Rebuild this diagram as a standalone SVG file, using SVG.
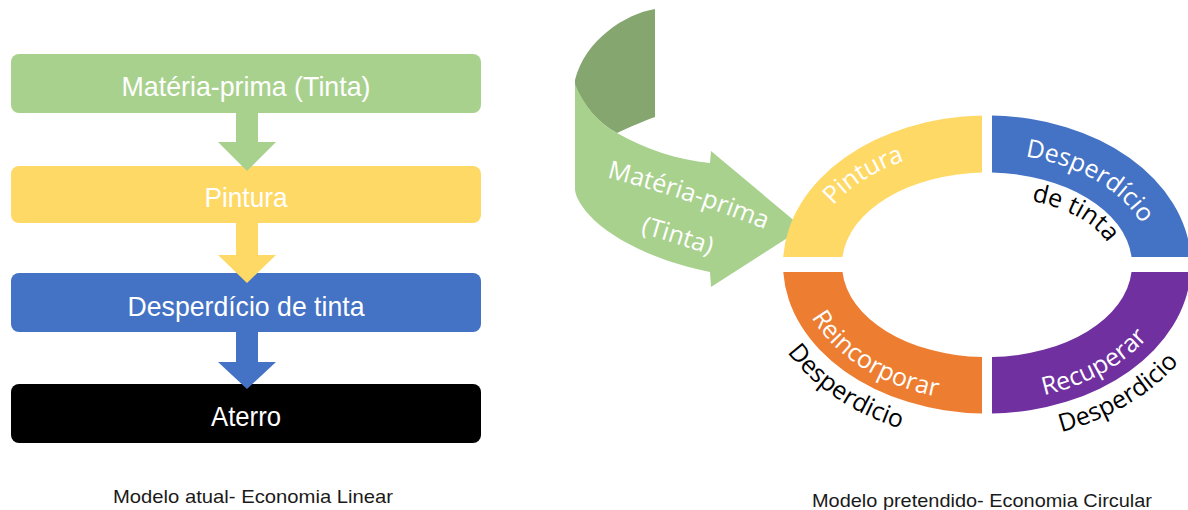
<svg xmlns="http://www.w3.org/2000/svg" width="1188" height="510" viewBox="0 0 1188 510">
<style>
.box-t{font-family:"Liberation Sans",Arial,sans-serif;font-size:28px;fill:#fff;text-anchor:middle}
.cap{font-family:"Liberation Sans",Arial,sans-serif;font-size:19px;fill:#1a1a1a}
.ring-w{font-family:"Open Sans","Liberation Sans",sans-serif;font-size:25px;fill:#fff;text-anchor:middle}
.ring-k{font-family:"Open Sans","Liberation Sans",sans-serif;font-size:25px;fill:#000;text-anchor:middle}
.arr-t{font-family:"Open Sans","Liberation Sans",sans-serif;font-size:25px;fill:#fff;text-anchor:middle}
</style>
<defs>
<path id="tpY" d="M809,264.5 A178,117 0 0,1 987,147.5"/>
<path id="tpB1" d="M987,153.5 A166,111 0 0,1 1153,264.5"/>
<path id="tpB2" d="M987,196.5 A127,68 0 0,1 1114,264.5"/>
<path id="tpO1" d="M797,264.5 A190,137 0 0,0 987,401.5"/>
<path id="tpO2" d="M757,264.5 A230,177 0 0,0 987,441.5"/>
<path id="tpP1" d="M987,401.5 A190,137 0 0,0 1177,264.5"/>
<path id="tpP2" d="M987,441.5 A230,177 0 0,0 1217,264.5"/>
<path id="tpA1" d="M600,176 Q680,195 772,232"/>
<path id="tpA2" d="M626,229 Q675,242 724,260"/>
</defs>
<rect width="1188" height="510" fill="#fff"/>

<!-- Linear model -->
<g id="node-materia">
<rect x="11" y="54" width="470" height="59" rx="8" fill="#A9D18E"/>
<text class="box-t" x="246" y="96" textLength="249" lengthAdjust="spacingAndGlyphs">Matéria-prima (Tinta)</text>
</g>
<g id="node-pintura">
<rect x="11" y="166" width="470" height="57" rx="8" fill="#FFD966"/>
<text class="box-t" x="246" y="207" textLength="83" lengthAdjust="spacingAndGlyphs">Pintura</text>
</g>
<g id="node-desperdicio">
<rect x="11" y="273" width="470" height="59" rx="8" fill="#4472C4"/>
<text class="box-t" x="246" y="316" textLength="237" lengthAdjust="spacingAndGlyphs">Desperdício de tinta</text>
</g>
<g id="node-aterro">
<rect x="11" y="384" width="470" height="59" rx="8" fill="#000"/>
<text class="box-t" x="246" y="426" textLength="70" lengthAdjust="spacingAndGlyphs">Aterro</text>
</g>
<g id="connectors">
<polygon points="236,113 258,113 258,142 276,142 247,171 218,142 236,142" fill="#A9D18E"/>
<polygon points="236,223 258,223 258,255 276,255 247,283 218,255 236,255" fill="#FFD966"/>
<polygon points="236,332 258,332 258,362 276,362 247,389 218,362 236,362" fill="#4472C4"/>
</g>
<g id="caption-linear">
<text class="cap" x="113" y="503" textLength="280" lengthAdjust="spacingAndGlyphs">Modelo atual- Economia Linear</text>
</g>

<!-- Circular model -->
<g id="node-materia-arrow">
<path d="M655,9 C625,14 585,40 575,80 L575,86 C584,106 598,123 617,133 C630,127 644,121 655,117 Z" fill="#85A66F"/>
<path d="M575,84 C585,108 600,124 617,133 C645,149 678,160 710,163 L711,151 L803,228 L711,287 L710,272 C664,263 620,244 594,220 C582,208 576,198 575,190 Z" fill="#A9D18E"/>
<text class="arr-t"><textPath href="#tpA1" startOffset="50%">Matéria-prima</textPath></text>
<text class="arr-t"><textPath href="#tpA2" startOffset="50%">(Tinta)</textPath></text>
</g>
<g id="node-ring-pintura">
<path d="M783.26,257 A204,149 0 0,1 982,115.55 L982,172.55 A145,92 0 0,0 842.48,257 Z" fill="#FFD966"/>
<text class="ring-w"><textPath href="#tpY" startOffset="46%">Pintura</textPath></text>
</g>
<g id="node-ring-desperdicio">
<path d="M992,115.55 A204,149 0 0,1 1190.74,257 L1131.52,257 A145,92 0 0,0 992,172.55 Z" fill="#4472C4"/>
<text class="ring-w"><textPath href="#tpB1" startOffset="49%">Desperdício</textPath></text>
<text class="ring-k"><textPath href="#tpB2" startOffset="57%">de tinta</textPath></text>
</g>
<g id="node-ring-reincorporar">
<path d="M783.26,272 A204,149 0 0,0 982,413.45 L982,357.05 A145,92 0 0,1 842.48,272 Z" fill="#ED7D31"/>
<text class="ring-w"><textPath href="#tpO1" startOffset="51%">Reincorporar</textPath></text>
<text class="ring-k"><textPath href="#tpO2" startOffset="51%">Desperdicio</textPath></text>
</g>
<g id="node-ring-recuperar">
<path d="M992,413.45 A204,149 0 0,0 1190.74,272 L1131.52,272 A145,92 0 0,1 992,357.05 Z" fill="#7030A0"/>
<text class="ring-w"><textPath href="#tpP1" startOffset="45.5%">Recuperar</textPath></text>
<text class="ring-k"><textPath href="#tpP2" startOffset="45%">Desperdicio</textPath></text>
</g>
<g id="caption-circular">
<text class="cap" x="812" y="507" textLength="340" lengthAdjust="spacingAndGlyphs">Modelo pretendido- Economia Circular</text>
</g>
</svg>
